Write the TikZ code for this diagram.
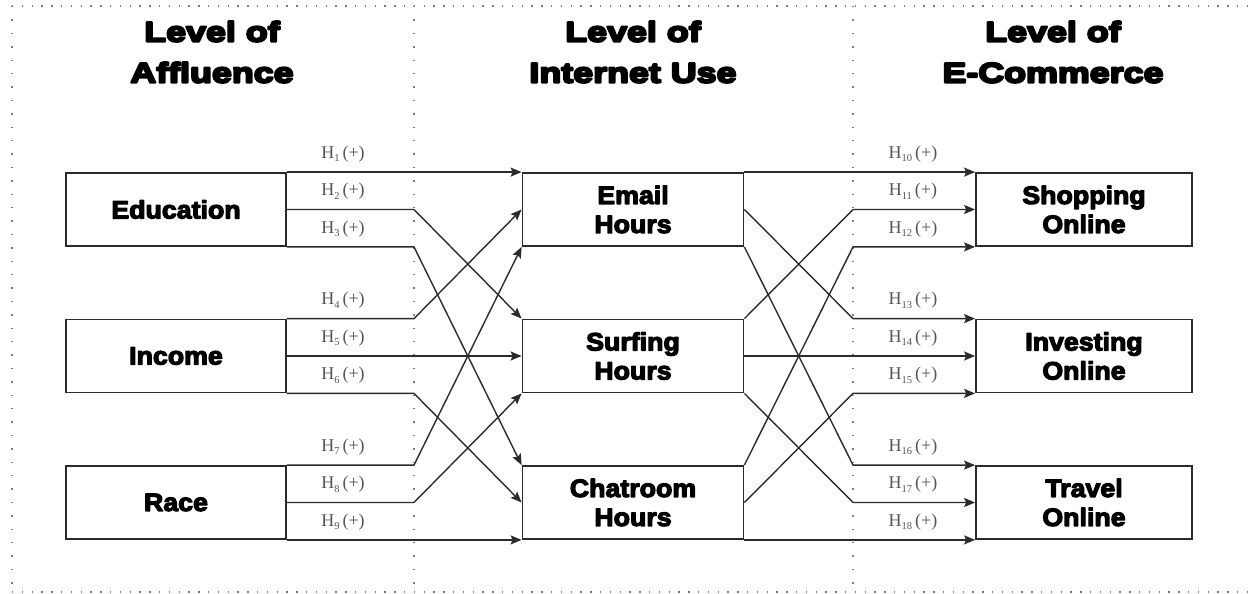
\documentclass[tikz,border=0pt]{standalone}
\usepackage{fontspec}
\setmainfont{Liberation Serif}
\newfontfamily\heavy{Liberation Sans}[UprightFont=* Bold,FakeStretch=1.28]
\newfontfamily\boxfont{Liberation Sans}[UprightFont=* Bold,FakeStretch=1.07]
\usetikzlibrary{arrows.meta,calc}
\definecolor{inkline}{HTML}{2B2B2B}
\definecolor{labgray}{HTML}{555555}
\definecolor{dotgray}{HTML}{7A7A7A}
% fill-and-stroke text rendering for the extra-heavy lettering
\newcommand{\inked}[2]{\special{pdf:literal direct 0 0 0 RG #1 w 1 j 2 Tr}#2\special{pdf:literal direct 0 Tr}}
\tikzset{
  varbox/.style={draw=inkline, line width=1.8pt, rectangle, inner sep=0pt,
    minimum width=220pt, minimum height=73pt, align=center,
    font=\boxfont\fontsize{25}{29}\selectfont},
  header/.style={align=center, inner sep=0pt,
    font=\heavy\fontsize{28}{41}\selectfont},
  hyp/.style={draw=inkline, line width=1.4pt,
    -{Stealth[length=11pt,width=9pt,inset=2pt]}},
  lab/.style={text=labgray, inner sep=0pt, font=\fontsize{18}{20}\selectfont},
  dotrule/.style={draw=dotgray, line width=1.4pt, dash pattern=on 1.4pt off 8.4pt},
  dotcol/.style={draw=dotgray, line width=1.4pt, dash pattern=on 1.4pt off 12pt},
}
\newcommand{\hyplab}[1]{H\raisebox{-3.5pt}{\fontsize{10.5}{11}\selectfont #1}\hspace{3pt}(+)}
\newcommand{\hd}[1]{\inked{2.2}{#1}}
\newcommand{\bx}[1]{\inked{1.2}{#1}}
\begin{document}
\begin{tikzpicture}[x=1pt,y=-1pt]
\useasboundingbox (0,0) rectangle (1254,594);

% frame and column separators
\coordinate (frTL) at (12,6);
\coordinate (frTR) at (1254,6);
\coordinate (frBL) at (12,592);
\coordinate (frBR) at (1254,592);
\coordinate (sepL) at (414,6);
\coordinate (sepR) at (853,6);
\coordinate (sepLb) at (414,592);
\coordinate (sepRb) at (853,592);
\path[dotrule] (frTL) -- (frTR);
\path[dotrule] (frBL) -- (frBR);
\path[dotcol] (frTL) -- (frBL);
\path[dotcol] (sepL) -- (sepLb);
\path[dotcol] (sepR) -- (sepRb);

% column headings
\node[header] (hA) at (212,52) {\hd{Level of}\\\hd{Affluence}};
\node[header] (hB) at (633,52) {\hd{Level of}\\\hd{Internet Use}};
\node[header] (hC) at (1053,52) {\hd{Level of}\\\hd{E-Commerce}};

% variables
\node[varbox] (edu) at (176,209.5) {\bx{Education}};
\node[varbox] (inc) at (176,356) {\bx{Income}};
\node[varbox] (race) at (176,502.5) {\bx{Race}};

\node[varbox, minimum width=221pt] (email) at (633,209.5) {\bx{Email}\\\bx{Hours}};
\node[varbox, minimum width=221pt] (surf) at (633,356) {\bx{Surfing}\\\bx{Hours}};
\node[varbox, minimum width=221pt] (chat) at (633,502.5) {\bx{Chatroom}\\\bx{Hours}};

\node[varbox, minimum width=216pt] (shop) at (1084,209.5) {\bx{Shopping}\\\bx{Online}};
\node[varbox, minimum width=216pt] (inv) at (1084,356) {\bx{Investing}\\\bx{Online}};
\node[varbox, minimum width=216pt] (trav) at (1084,502.5) {\bx{Travel}\\\bx{Online}};

% hypotheses: affluence -> internet use
\foreach \src/\i in {edu/0,inc/1,race/2}{
  \foreach \tgt/\j in {email/0,surf/1,chat/2}{
    \ifnum\j=0 \def\sp{north east}\fi
    \ifnum\j=1 \def\sp{east}\fi
    \ifnum\j=2 \def\sp{south east}\fi
    \ifnum\i=0 \def\tp{north west}\fi
    \ifnum\i=1 \def\tp{west}\fi
    \ifnum\i=2 \def\tp{south west}\fi
    \draw[hyp] (\src.\sp) -- (\src.\sp -| sepL) -- (\tgt.\tp);
  }
}

% hypotheses: internet use -> e-commerce
\foreach \src/\i in {email/0,surf/1,chat/2}{
  \foreach \tgt/\j in {shop/0,inv/1,trav/2}{
    \ifnum\j=0 \def\sp{north east}\fi
    \ifnum\j=1 \def\sp{east}\fi
    \ifnum\j=2 \def\sp{south east}\fi
    \ifnum\i=0 \def\tp{north west}\fi
    \ifnum\i=1 \def\tp{west}\fi
    \ifnum\i=2 \def\tp{south west}\fi
    \draw[hyp] (\src.\sp) -- (\tgt.\tp -| sepR) -- (\tgt.\tp);
  }
}

% hypothesis labels
\coordinate (labL) at (343,0);
\coordinate (labR) at (913,0);
\node[lab] (H1) at ([yshift=18pt]edu.north east -| labL) {\hyplab{1}};
\node[lab] (H2) at ([yshift=18pt]edu.east -| labL) {\hyplab{2}};
\node[lab] (H3) at ([yshift=18pt]edu.south east -| labL) {\hyplab{3}};
\node[lab] (H4) at ([yshift=18pt]inc.north east -| labL) {\hyplab{4}};
\node[lab] (H5) at ([yshift=18pt]inc.east -| labL) {\hyplab{5}};
\node[lab] (H6) at ([yshift=18pt]inc.south east -| labL) {\hyplab{6}};
\node[lab] (H7) at ([yshift=18pt]race.north east -| labL) {\hyplab{7}};
\node[lab] (H8) at ([yshift=18pt]race.east -| labL) {\hyplab{8}};
\node[lab] (H9) at ([yshift=18pt]race.south east -| labL) {\hyplab{9}};
\node[lab] (H10) at ([yshift=18pt]shop.north west -| labR) {\hyplab{10}};
\node[lab] (H11) at ([yshift=18pt]shop.west -| labR) {\hyplab{11}};
\node[lab] (H12) at ([yshift=18pt]shop.south west -| labR) {\hyplab{12}};
\node[lab] (H13) at ([yshift=18pt]inv.north west -| labR) {\hyplab{13}};
\node[lab] (H14) at ([yshift=18pt]inv.west -| labR) {\hyplab{14}};
\node[lab] (H15) at ([yshift=18pt]inv.south west -| labR) {\hyplab{15}};
\node[lab] (H16) at ([yshift=18pt]trav.north west -| labR) {\hyplab{16}};
\node[lab] (H17) at ([yshift=18pt]trav.west -| labR) {\hyplab{17}};
\node[lab] (H18) at ([yshift=18pt]trav.south west -| labR) {\hyplab{18}};
\end{tikzpicture}
\end{document}
